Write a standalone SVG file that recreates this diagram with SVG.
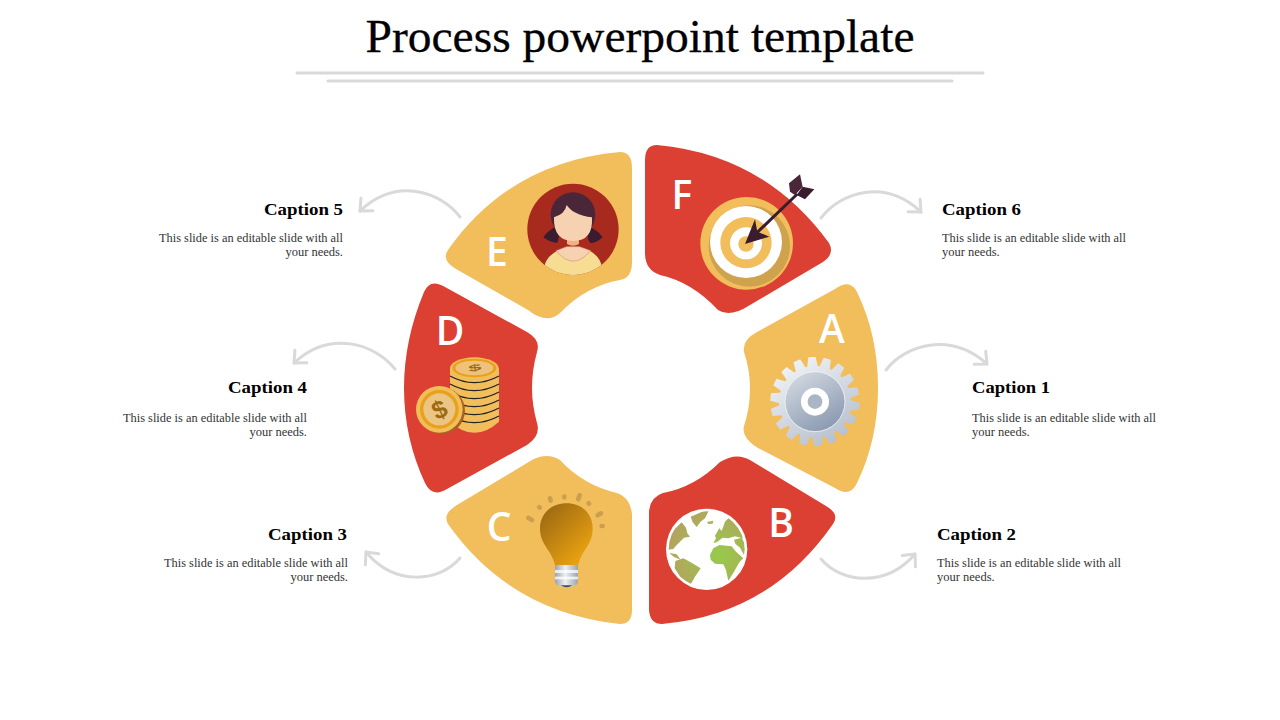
<svg xmlns="http://www.w3.org/2000/svg" xmlns:xlink="http://www.w3.org/1999/xlink" width="1280" height="720" viewBox="0 0 1280 720">
<style>
.red{fill:#dc4032}.yel{fill:#f2bd5b}
.let{font-family:"Open Sans","Liberation Sans",sans-serif;font-weight:600;font-size:39px;fill:#fff;text-anchor:middle}
.cap{font-family:"Liberation Serif",serif;font-weight:700;font-size:17px;fill:#000}
.body{font-family:"Liberation Serif",serif;font-size:12.5px;fill:#333}
.r{text-anchor:end}
.conn{fill:none;stroke:#d9d9d9;stroke-width:3;stroke-linecap:round;marker-end:url(#head)}
.rule{stroke:#d9d9d9;stroke-width:3;stroke-linecap:round}
</style>
<defs>
<marker id="head" markerUnits="userSpaceOnUse" markerWidth="30" markerHeight="30" refX="15" refY="15" orient="auto" viewBox="0 0 30 30"><path d="M5.5 6.3 L15 15 L5.5 23.7" fill="none" stroke="#d9d9d9" stroke-width="3" stroke-linecap="round" stroke-linejoin="round"/></marker>
<linearGradient id="gearOut" gradientUnits="userSpaceOnUse" x1="160" y1="235" x2="320" y2="495"><stop offset="0" stop-color="#f2f4f7"/><stop offset="1" stop-color="#b3bdcc"/></linearGradient>
<linearGradient id="gearIn" x1="0.2" y1="0" x2="0.8" y2="1"><stop offset="0" stop-color="#d3d9e1"/><stop offset="1" stop-color="#8696ae"/></linearGradient>
<linearGradient id="bulb" x1="0.1" y1="0.1" x2="0.8" y2="0.9"><stop offset="0" stop-color="#9d6a14"/><stop offset="1" stop-color="#eaa210"/></linearGradient>
<linearGradient id="metal" x1="0" y1="0" x2="1" y2="0"><stop offset="0" stop-color="#9aa3b0"/><stop offset="0.45" stop-color="#eef0f3"/><stop offset="1" stop-color="#9aa3b0"/></linearGradient>
<radialGradient id="land" gradientUnits="userSpaceOnUse" cx="175" cy="150" r="150"><stop offset="0" stop-color="#96cb4a"/><stop offset="1" stop-color="#b3a35f"/></radialGradient>
<clipPath id="pc"><circle cx="519" cy="268" r="137"/></clipPath>
<clipPath id="gc"><circle cx="140" cy="133" r="114"/></clipPath>
<path id="tooth" d="M222 272 L229 231 L251 231 L258 272 Z"/>
<clipPath id="teeth">
<use xlink:href="#tooth" transform="rotate(-4 240 365)"/><use xlink:href="#tooth" transform="rotate(16 240 365)"/><use xlink:href="#tooth" transform="rotate(36 240 365)"/><use xlink:href="#tooth" transform="rotate(56 240 365)"/><use xlink:href="#tooth" transform="rotate(76 240 365)"/><use xlink:href="#tooth" transform="rotate(96 240 365)"/><use xlink:href="#tooth" transform="rotate(116 240 365)"/><use xlink:href="#tooth" transform="rotate(136 240 365)"/><use xlink:href="#tooth" transform="rotate(156 240 365)"/><use xlink:href="#tooth" transform="rotate(176 240 365)"/><use xlink:href="#tooth" transform="rotate(196 240 365)"/><use xlink:href="#tooth" transform="rotate(216 240 365)"/><use xlink:href="#tooth" transform="rotate(236 240 365)"/><use xlink:href="#tooth" transform="rotate(256 240 365)"/><use xlink:href="#tooth" transform="rotate(276 240 365)"/><use xlink:href="#tooth" transform="rotate(296 240 365)"/><use xlink:href="#tooth" transform="rotate(316 240 365)"/><use xlink:href="#tooth" transform="rotate(336 240 365)"/>
</clipPath>
</defs>
<rect width="1280" height="720" fill="#fff"/>
<g id="title">
<text x="640" y="52" text-anchor="middle" font-family="'Liberation Serif',serif" font-size="47" fill="#000" stroke="#000" stroke-width=".3" textLength="549" lengthAdjust="spacingAndGlyphs">Process powerpoint template</text>
<line class="rule" x1="297" y1="73" x2="983" y2="73"/>
<line class="rule" x1="328" y1="81" x2="952" y2="81"/>
</g>
<g id="connectors">
<path class="conn" d="M886 370 C905 345 950 331 987 364"/>
<path class="conn" d="M821 559 C841 583 886 588 915 554"/>
<path class="conn" d="M460 558 C440 582 395 587 366 552"/>
<path class="conn" d="M395 369 C375 344 330 329 294 363"/>
<path class="conn" d="M460 217 C440 191 396 177 360 211"/>
<path class="conn" d="M821 218 C841 192 885 178 921 212"/>
</g>
<g id="node-a">
<path class="yel" d="M835 289 Q850 278 857 292 Q878 335 878 388 Q878 440 857 483 Q850 498 835 488 L758 448 Q741 438 744 426 Q750 408 750 388 Q750 370 744 352 Q742 340 757 332 Z"/>
<g transform="translate(735 280) scale(.3333)">
<rect x="100" y="225" width="280" height="280" fill="url(#gearOut)" clip-path="url(#teeth)"/>
<circle cx="240" cy="365" r="108" fill="url(#gearOut)"/>
<circle cx="240" cy="365" r="90" fill="url(#gearIn)" stroke="#f2f4f7" stroke-width="2.5"/>
<circle cx="240" cy="365" r="42" fill="#fff"/>
<circle cx="240" cy="365" r="22" fill="#aab5c6"/>
</g>
<text class="let" x="832" y="343">A</text>
</g>
<g id="node-b">
<path class="red" d="M750 460 Q736 452 720 462 Q695 487 663 493 Q650 497 649 512 L649 610 Q650 624 662 624 Q770 615 833 524 Q840 514 826 506 Z"/>
<g transform="translate(660 505) scale(.3333)">
<circle cx="140" cy="133" r="122" fill="#fff"/>
<g fill="url(#land)" clip-path="url(#gc)">
<path d="M20 135 L20 95 L65 52 L78 68 L82 85 L90 95 L72 98 L60 110 L48 122 L40 132 Z"/>
<path d="M92 35 L150 10 L135 40 L122 50 L110 66 L98 52 Z"/>
<path d="M141 51 L160 47 L158 56 L145 57 Z"/>
<path d="M165 92 L178 70 L185 78 L195 50 L215 30 L262 90 L248 100 L225 94 L205 100 L188 98 L170 112 L160 114 L168 100 Z"/>
<path d="M150 150 L160 130 L178 120 L200 122 L215 124 L228 140 L250 160 L238 172 L222 200 L205 228 L198 195 L190 178 L165 176 L152 164 Z"/>
<path d="M222 104 L245 98 L262 130 L252 150 L240 128 L226 116 Z"/>
<path d="M46 168 L70 160 L92 172 L122 190 L106 214 L92 238 L62 218 L44 190 Z"/>
<path d="M28 144 L50 148 L62 164 L42 156 Z"/>
</g>
</g>
<text class="let" x="781" y="537">B</text>
</g>
<g id="node-c">
<path class="yel" d="M532 460 Q547 452 560 460 Q583 485 617 493 Q630 497 632 514 L632 610 Q632 624 620 624 Q510 612 448 524 Q442 514 457 505 Z"/>
<g transform="translate(440 450) scale(.3333)">
<g stroke="#cc9f4e" stroke-width="14" stroke-linecap="round"><line x1="265" y1="204" x2="276" y2="210"/><line x1="298" y1="172" x2="299" y2="173"/><line x1="330" y1="145" x2="332" y2="152"/><line x1="373" y1="140" x2="373" y2="142"/><line x1="419" y1="136" x2="415" y2="148"/><line x1="446" y1="160" x2="447" y2="161"/><line x1="483" y1="190" x2="473" y2="196"/><line x1="485" y1="228" x2="488" y2="228"/></g>
<path d="M345 345 L345 395 Q345 410 380 410 Q414 410 414 395 L414 345 Z" fill="url(#metal)"/>
<rect x="345" y="360" width="69" height="9" fill="#fff" opacity=".75"/>
<rect x="345" y="380" width="69" height="8" fill="#fff" opacity=".75"/>
<path d="M362 406 Q380 418 397 406 Z" fill="#3f4a5e"/>
<path d="M380 160 C335 160 300 190 300 235 C300 285 335 300 345 345 L415 345 C425 300 458 285 458 235 C458 190 425 160 380 160 Z" fill="url(#bulb)"/>
</g>
<text class="let" x="499" y="541">C</text>
</g>
<g id="node-d">
<path class="red" d="M445 287 Q430 278 424 292 Q404 340 404 388 Q404 438 425 483 Q432 498 447 489 L527 445 Q541 436 537 423 Q532 405 532 388 Q532 370 537 352 Q541 340 527 332 Z"/>
<g transform="translate(400 280) scale(.3333)">
<path d="M150 265 L150 425 Q223 492 297 425 L297 265 Z" fill="#f2bd5b"/>
<g fill="none" stroke="#222" stroke-width="3.5"><path d="M150 288 Q223 328 297 288"/><path d="M150 312 Q223 352 297 312"/><path d="M150 336 Q223 376 297 336"/><path d="M150 360 Q223 400 297 360"/><path d="M150 384 Q223 424 297 384"/><path d="M150 408 Q223 448 297 408"/></g>
<ellipse cx="223" cy="265" rx="73" ry="33" fill="#f2bd5b"/>
<ellipse cx="223" cy="264" rx="66" ry="28" fill="#e8a21a"/>
<ellipse cx="223" cy="264" rx="57" ry="22" fill="#eec27c"/>
<text x="0" y="0" font-family="'Liberation Sans',sans-serif" font-weight="700" font-size="50" fill="#9c6a10" text-anchor="middle" transform="translate(226 273) rotate(-10) scale(1.4 .55)">$</text>
<circle cx="125" cy="392" r="70" fill="#a8611f"/>
<circle cx="118" cy="388" r="70" fill="#f2bd5b"/>
<circle cx="118" cy="388" r="58" fill="#e8a21a"/>
<circle cx="118" cy="388" r="48" fill="#ecc484"/>
<text x="0" y="27" font-family="'Liberation Sans',sans-serif" font-weight="700" font-size="76" fill="#9c6a10" text-anchor="middle" transform="translate(118 388) rotate(-25)">$</text>
</g>
<text class="let" x="450" y="345">D</text>
</g>
<g id="node-e">
<path class="yel" d="M620 152 Q632 152 632 168 L632 262 Q632 278 620 280 Q586 286 560 313 Q547 325 528 310 L456 269 Q441 260 448 250 Q510 162 620 152 Z"/>
<g transform="translate(400 140) scale(.3333)">
<circle cx="519" cy="268" r="137" fill="#a82a1e"/>
<path d="M470 258 Q440 275 430 292 Q455 310 472 308 Q482 285 470 258 Z M566 258 Q598 275 608 292 Q585 312 570 308 Q556 285 566 258 Z" fill="#3a1c2e"/>
<circle cx="519" cy="224" r="67" fill="#4a2639"/>
<g clip-path="url(#pc)"><path d="M433 380 Q440 340 500 320 L538 320 Q596 335 606 380 L606 420 L433 420 Z" fill="#f6dd93"/></g>
<path d="M468 332 L500 320 L538 320 L572 332 Q520 395 468 332 Z" fill="#f6d2b3" stroke="#d2786a" stroke-width="1.5"/>
<path d="M501 292 L537 292 L537 312 Q519 322 501 312 Z" fill="#eeb283"/>
<path d="M462 232 Q495 222 500 195 Q520 225 576 232 Q580 303 520 303 Q460 303 462 232 Z" fill="#f6d2b3"/>
</g>
<text class="let" x="497" y="266">E</text>
</g>
<g id="node-f">
<path class="red" d="M657 145 Q645 145 645 160 L645 253 Q645 270 660 275 Q692 282 718 310 Q730 318 750 305 L823 262 Q835 254 829 243 Q765 155 657 145 Z"/>
<g transform="translate(640 140) scale(.3333)">
<circle cx="320" cy="310" r="139" fill="#f2bd5b"/>
<circle cx="328" cy="318" r="122" fill="#cfa24e"/>
<circle cx="318" cy="306" r="108" fill="#fff"/>
<circle cx="318" cy="308" r="77" fill="#f2bd5b"/>
<circle cx="318" cy="310" r="48" fill="#fff"/>
<circle cx="318" cy="312" r="23" fill="#f2bd5b"/>
<line x1="330" y1="298" x2="472" y2="162" stroke="#3a1c2e" stroke-width="9"/>
<path d="M315 312 L345 238 L352 275 L388 290 Z" fill="#3a1c2e"/>
<path d="M447 130 L480 103 L488 140 L465 165 L450 155 Z" fill="#4a2639"/>
<path d="M488 140 L523 148 L495 178 L470 165 Z" fill="#3a1c2e"/>
</g>
<text class="let" x="682" y="209">F</text>
</g>
<g id="caption-1"><text class="cap" x="972" y="393" textLength="78" lengthAdjust="spacingAndGlyphs">Caption 1</text><text class="body" x="972" y="422" textLength="184" lengthAdjust="spacingAndGlyphs">This slide is an editable slide with all</text><text class="body" x="972" y="436">your needs.</text></g>
<g id="caption-2"><text class="cap" x="937" y="540" textLength="79" lengthAdjust="spacingAndGlyphs">Caption 2</text><text class="body" x="937" y="567" textLength="184" lengthAdjust="spacingAndGlyphs">This slide is an editable slide with all</text><text class="body" x="937" y="581">your needs.</text></g>
<g id="caption-3"><text class="cap r" x="347" y="540" textLength="79" lengthAdjust="spacingAndGlyphs">Caption 3</text><text class="body r" x="348" y="567" textLength="184" lengthAdjust="spacingAndGlyphs">This slide is an editable slide with all</text><text class="body r" x="348" y="581">your needs.</text></g>
<g id="caption-4"><text class="cap r" x="307" y="393" textLength="79" lengthAdjust="spacingAndGlyphs">Caption 4</text><text class="body r" x="307" y="422" textLength="184" lengthAdjust="spacingAndGlyphs">This slide is an editable slide with all</text><text class="body r" x="307" y="436">your needs.</text></g>
<g id="caption-5"><text class="cap r" x="343" y="215" textLength="79" lengthAdjust="spacingAndGlyphs">Caption 5</text><text class="body r" x="343" y="242" textLength="184" lengthAdjust="spacingAndGlyphs">This slide is an editable slide with all</text><text class="body r" x="343" y="256">your needs.</text></g>
<g id="caption-6"><text class="cap" x="942" y="215" textLength="79" lengthAdjust="spacingAndGlyphs">Caption 6</text><text class="body" x="942" y="242" textLength="184" lengthAdjust="spacingAndGlyphs">This slide is an editable slide with all</text><text class="body" x="942" y="256">your needs.</text></g>
</svg>
